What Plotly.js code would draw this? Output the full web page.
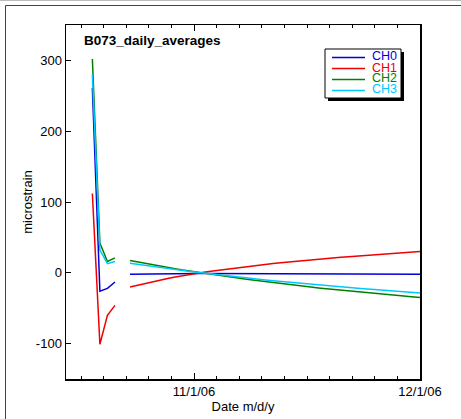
<!DOCTYPE html>
<html>
<head>
<meta charset="utf-8">
<script src="https://cdn.plot.ly/plotly-3.0.1.min.js"></script>
<style>html,body{margin:0;padding:0;background:#fff;overflow:hidden;}#chart{width:461px;height:419px;}</style>
</head>
<body>
<div id="chart"></div>
<script>
// Daily averages (date at noon of each day); null = no data (gap)
var dates = [
  '2006-10-18 12:00','2006-10-19 12:00','2006-10-20 12:00','2006-10-21 12:00','2006-10-22 12:00',
  '2006-10-23 12:00','2006-10-24 12:00','2006-10-25 12:00','2006-10-26 12:00','2006-10-27 12:00',
  '2006-10-28 12:00','2006-10-29 12:00','2006-10-30 12:00','2006-10-31 12:00',
  '2006-11-01 12:00','2006-11-02 12:00','2006-11-03 12:00','2006-11-04 12:00','2006-11-05 12:00',
  '2006-11-06 12:00','2006-11-07 12:00','2006-11-08 12:00','2006-11-09 12:00','2006-11-10 12:00',
  '2006-11-11 12:00','2006-11-12 12:00','2006-11-13 12:00','2006-11-14 12:00','2006-11-15 12:00',
  '2006-11-16 12:00','2006-11-17 12:00','2006-11-18 12:00','2006-11-19 12:00','2006-11-20 12:00',
  '2006-11-21 12:00','2006-11-22 12:00','2006-11-23 12:00','2006-11-24 12:00','2006-11-25 12:00',
  '2006-11-26 12:00','2006-11-27 12:00','2006-11-28 12:00','2006-11-29 12:00','2006-11-30 12:00',
  '2006-12-01 12:00'
];
var ch0 = [261, -26, -22, -13, null,
  -2.0, -1.8, -1.6, -1.5, -1.4, -1.3, -1.2, -1.1, -1.0,
  -1.0, -1.0, -1.0, -1.0, -1.0, -1.1, -1.1, -1.1, -1.2, -1.2, -1.2, -1.3, -1.3, -1.3, -1.4,
  -1.4, -1.4, -1.5, -1.5, -1.5, -1.6, -1.6, -1.6, -1.7, -1.7, -1.7, -1.8, -1.8, -1.8, -1.9,
  -1.9];
var ch1 = [112, -101, -60, -46, null,
  -20, -17.4, -14.9, -12.5, -10.2, -8.0, -5.9, -3.9, -2.1,
  -0.5, 1.1, 2.6, 4.0, 5.4, 6.8, 8.1, 9.4, 10.6, 11.8, 13.0, 14.1, 15.2, 16.2, 17.2,
  18.2, 19.2, 20.1, 21.0, 21.9, 22.8, 23.6, 24.4, 25.2, 26.0, 26.8, 27.5, 28.2, 28.9, 29.6,
  30.3];
var ch2 = [302, 42, 16, 21, null,
  17.5, 15.4, 13.4, 11.4, 9.5, 7.6, 5.8, 4.0, 2.3,
  0.6, -1.0, -2.6, -4.1, -5.6, -7.1, -8.5, -9.9, -11.3, -12.7, -14.0, -15.3, -16.5, -17.7, -18.9,
  -20.1, -21.3, -22.4, -23.5, -24.6, -25.7, -26.7, -27.7, -28.7, -29.7, -30.7, -31.6, -32.5, -33.4, -34.3,
  -35.2];
var ch3 = [280, 32, 13, 16, null,
  13.5, 11.9, 10.3, 8.8, 7.3, 5.9, 4.5, 3.1, 1.8,
  0.5, -0.8, -2.0, -3.2, -4.4, -5.6, -6.8, -8.0, -9.1, -10.2, -11.3, -12.3, -13.3, -14.3, -15.3,
  -16.3, -17.2, -18.1, -19.0, -19.9, -20.8, -21.6, -22.4, -23.2, -24.0, -24.8, -25.6, -26.4, -27.2, -28.0,
  -28.8];
var seriesNames = ['CH0', 'CH1', 'CH2', 'CH3'];
var seriesColors = ['rgb(0,0,220)', 'rgb(240,0,0)', 'rgb(0,128,0)', 'rgb(0,200,255)'];
var seriesValues = [ch0, ch1, ch2, ch3];
var yTickVals = [-100, 0, 100, 200, 300];
var yTickText = ['-100', '0', '100', '200', '300'];
var titleText = 'B073_daily_averages';
var xTitle = 'Date m/d/y';
var yTitle = 'microstrain';

var FONT = 'Liberation Sans, Arial, Helvetica, sans-serif';

var traces = seriesValues.map(function (v, i) {
  return {
    x: dates, y: v, type: 'scatter', mode: 'lines', name: seriesNames[i],
    connectgaps: false,
    line: {color: seriesColors[i], width: 1.5},
    showlegend: false
  };
});

// plot area: x 66..420, y 25..379 (354 x 354 px)
function px(x) { return (x - 66) / 354; }
function py(y) { return (379 - y) / 354; }

var shapes = [
  // outer frame (left and top edges only visible)
  {type: 'line', xref: 'paper', yref: 'paper', x0: px(5.5), x1: px(5.5), y0: py(5.5), y1: py(419),
   line: {color: '#444', width: 1}},
  {type: 'line', xref: 'paper', yref: 'paper', x0: px(5.5), x1: px(461), y0: py(5.5), y1: py(5.5),
   line: {color: '#444', width: 1}},
  {type: 'line', xref: 'paper', yref: 'paper', x0: px(0), x1: px(461), y0: py(0.5), y1: py(0.5),
   line: {color: '#bbb', width: 1}},
  // legend shadow + box
  {type: 'rect', xref: 'paper', yref: 'paper', x0: px(328), x1: px(404), y0: py(101), y1: py(52),
   line: {color: '#000', width: 0}, fillcolor: '#000'},
  {type: 'rect', xref: 'paper', yref: 'paper', x0: px(325), x1: px(401), y0: py(98), y1: py(49),
   line: {color: '#000', width: 1}, fillcolor: '#fff'}
];
var legendY = [57.5, 68.5, 79.5, 90.5];
var annotations = [
  {text: '<b>' + titleText + '</b>', xref: 'paper', yref: 'paper', x: px(82), y: py(40),
   xanchor: 'left', yanchor: 'middle', showarrow: false,
   font: {family: FONT, size: 13.5, color: '#000'}}
];
seriesNames.forEach(function (n, i) {
  shapes.push({type: 'line', xref: 'paper', yref: 'paper', x0: px(332), x1: px(365),
    y0: py(legendY[i]), y1: py(legendY[i]), line: {color: seriesColors[i], width: 1.5}});
  annotations.push({text: n, xref: 'paper', yref: 'paper', x: px(398), y: py(legendY[i] - 1),
    xanchor: 'right', yanchor: 'middle', showarrow: false, borderpad: 0,
    font: {family: FONT, size: 12.5, color: seriesColors[i]}});
});

var layout = {
  width: 461, height: 419,
  margin: {l: 66, r: 41, t: 25, b: 40},
  paper_bgcolor: '#fff', plot_bgcolor: '#fff',
  font: {family: FONT, size: 13, color: '#000'},
  showlegend: false,
  xaxis: {
    type: 'date',
    range: ['2006-10-15', '2006-12-01'],
    tick0: '2006-11-01', dtick: 'M1', tickformat: '%-m/%-d/%y',
    ticks: 'inside', ticklen: 6, tickwidth: 1, tickcolor: '#000',
    minor: {ticks: 'inside', ticklen: 3, tickwidth: 1, tickcolor: '#000', dtick: 3 * 86400000, tick0: '2006-11-01', showgrid: false},
    showline: true, linecolor: '#000', linewidth: 1.5, mirror: 'ticks',
    showgrid: false, zeroline: false,
    tickfont: {family: FONT, size: 13},
    title: {text: xTitle, font: {family: FONT, size: 13}, standoff: 2}
  },
  yaxis: {
    range: [-150, 350], tickmode: 'array', tickvals: yTickVals, ticktext: yTickText,
    ticks: 'inside', ticklen: 5, tickwidth: 1, tickcolor: '#000',
    showline: true, linecolor: '#000', linewidth: 1.5, mirror: true,
    showgrid: false, zeroline: false,
    tickfont: {family: FONT, size: 13},
    title: {text: yTitle, font: {family: FONT, size: 13}, standoff: 0}
  },
  shapes: shapes,
  annotations: annotations
};

Plotly.newPlot('chart', traces, layout, {displayModeBar: false, staticPlot: true});
</script>
</body>
</html>
